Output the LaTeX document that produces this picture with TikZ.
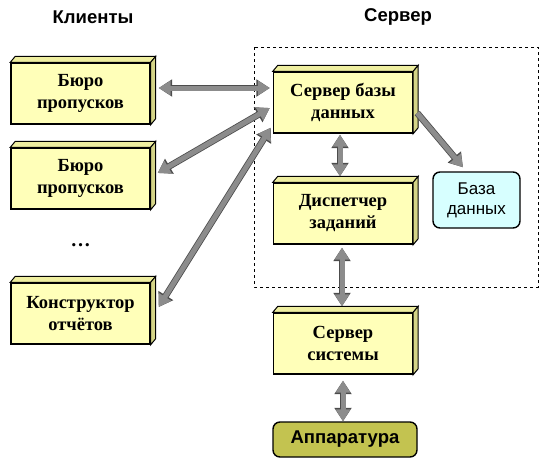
\documentclass[tikz,border=0pt]{standalone}
\usepackage{fontspec}
\setmainfont{Liberation Serif}
\newfontfamily\timesfont{Liberation Serif}
\newfontfamily\arialfont{Liberation Sans}
\usetikzlibrary{arrows.meta}

\definecolor{zhelt}{RGB}{255,255,185}
\definecolor{zheltbok}{RGB}{212,212,135}
\definecolor{zhelttop}{RGB}{238,238,160}
\definecolor{goluboy}{RGB}{215,255,255}
\definecolor{oliva}{RGB}{195,195,80}
\definecolor{strgray}{RGB}{140,140,140}

\tikzset{
    blok/.style={draw, line width=1.4pt, fill=zhelt, minimum width=139pt, minimum height=61pt,
        align=center, font=\timesfont\bfseries\fontsize{18.5}{22}\selectfont},
    grani/.style={draw, line width=1pt, fill=zheltbok},
    okruglyi/.style={draw, line width=1.4pt, rounded corners=7pt, align=center},
    strelka/.style={line width=5pt, draw=strgray, -{Triangle[width=14pt,length=12pt]},
        preaction={draw=black!70, line width=6.6pt, -{Triangle[width=16.5pt,length=13.5pt]}}},
    dvestrelki/.style={line width=5pt, draw=strgray, {Triangle[width=14pt,length=12pt]}-{Triangle[width=14pt,length=12pt]},
        preaction={draw=black!70, line width=6.6pt, {Triangle[width=16.5pt,length=13.5pt]}-{Triangle[width=16.5pt,length=13.5pt]}}}
}

\begin{document}
\begin{tikzpicture}[x=1pt, y=-1pt]
    \useasboundingbox (0,0) rectangle (551,471);

    % zagolovki
    \node (klienty) at (93,17) {\arialfont\bfseries\fontsize{18.5}{20}\selectfont Клиенты};
    \node (server) at (398,17) {\arialfont\bfseries\fontsize{18.5}{20}\selectfont Сервер};

    % ramka servera
    \draw[dashed, line width=0.6pt] (254,47) rectangle (538,287);

    % klienty
    \node[blok] (buro1) at (80.5,93.5) {Бюро\\пропусков};
    \node[blok] (buro2) at (80.5,178.5) {Бюро\\пропусков};
    \node (tochki) at (80.5,245) {\timesfont\bfseries\fontsize{20}{22}\selectfont …};
    \node[blok] (konstr) at (80.5,313.5) {Конструктор\\отчётов};

    % server
    \node[blok] (sbd) at (343,102.5) {Сервер базы\\данных};
    \node[blok] (disp) at (343,213.5) {Диспетчер\\заданий};
    \node[blok] (ssist) at (343,343.5) {Сервер\\системы};
    \node[okruglyi, fill=goluboy, minimum width=87pt, minimum height=56pt,
        font=\arialfont\fontsize{17}{20}\selectfont] (bd) at (476.5,200) {База\\данных};
    \node[okruglyi, fill=oliva, minimum width=144pt, minimum height=35pt,
        font=\arialfont\bfseries\fontsize{18.5}{20}\selectfont] (appar) at (345,439.5) {Аппаратура};

    % obyom blokov
    \foreach \b in {buro1,buro2,konstr,sbd,disp,ssist} {
        \draw[grani, fill=zhelttop] (\b.north west) -- ++(5pt,6pt) -- ([shift={(5pt,6pt)}]\b.north east) -- (\b.north east) -- cycle;
        \draw[grani] (\b.north east) -- ([shift={(5pt,6pt)}]\b.north east) -- ([shift={(5pt,6pt)}]\b.south east) -- (\b.south east) -- cycle;
    }

    % strelki
    \draw[dvestrelki] ([shift={(8pt,5.5pt)}]buro1.east) -- ([shift={(-3pt,14.5pt)}]sbd.west);
    \draw[dvestrelki] ([shift={(7pt,5.5pt)}]buro2.east) -- ([shift={(-3pt,-5.5pt)}]sbd.west);
    \draw[dvestrelki] ([shift={(8pt,6.5pt)}]konstr.east) -- ([shift={(-2pt,6pt)}]sbd.south west);
    \draw[dvestrelki] ([shift={(-3pt,-1pt)}]sbd.south) -- ([shift={(-3pt,6pt)}]disp.north);
    \draw[strelka] ([shift={(4pt,-10.5pt)}]sbd.east) -- ([shift={(-13.5pt,4pt)}]bd.north);
    \draw[dvestrelki] ([shift={(-1pt,-3pt)}]disp.south) -- ([shift={(-1pt,6pt)}]ssist.north);
    \draw[dvestrelki] ([shift={(0pt,-6pt)}]ssist.south) -- ([shift={(-2pt,0pt)}]appar.north);
\end{tikzpicture}
\end{document}
